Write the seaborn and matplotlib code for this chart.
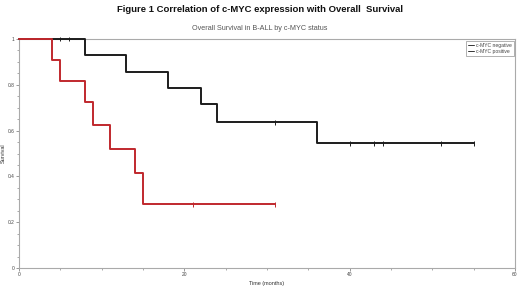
import pandas as pd
import matplotlib
matplotlib.use("Agg")
import matplotlib.pyplot as plt
import seaborn as sns
from matplotlib.ticker import MultipleLocator, FuncFormatter

# Dados (Kaplan-Meier)
neg_times = [0, 8, 13, 18, 22, 24, 36, 55]
neg_surv = [1.0, 0.929, 0.857, 0.786, 0.714, 0.636, 0.545, 0.545]
neg_cens_t = [5, 6, 31, 40, 43, 44, 51, 55]
neg_cens_s = [1.0, 1.0, 0.636, 0.545, 0.545, 0.545, 0.545, 0.545]

pos_times = [0, 4, 5, 8, 9, 11, 14, 15, 31]
pos_surv = [1.0, 0.909, 0.818, 0.727, 0.625, 0.52, 0.417, 0.278, 0.278]
pos_cens_t = [21, 31]
pos_cens_s = [0.278, 0.278]

groups = ["c-MYC negative", "c-MYC positive"]
cores = {"c-MYC negative": "#1c1c1c", "c-MYC positive": "#c0282d"}

df = pd.concat([
    pd.DataFrame({"Tempo": neg_times, "Sobrevida": neg_surv, "Grupo": groups[0]}),
    pd.DataFrame({"Tempo": pos_times, "Sobrevida": pos_surv, "Grupo": groups[1]}),
], ignore_index=True)
df_cens = pd.concat([
    pd.DataFrame({"Tempo": neg_cens_t, "Sobrevida": neg_cens_s, "Grupo": groups[0]}),
    pd.DataFrame({"Tempo": pos_cens_t, "Sobrevida": pos_cens_s, "Grupo": groups[1]}),
], ignore_index=True)

sns.set_style("white")
plt.rcParams["font.family"] = ["Liberation Sans", "DejaVu Sans"]

fig = plt.figure(figsize=(5.2, 2.86), dpi=100)
ax = fig.add_axes([19 / 520, 18 / 286, 496 / 520, 229 / 286])

sns.lineplot(data=df, x="Tempo", y="Sobrevida", hue="Grupo", palette=cores,
             drawstyle="steps-post", estimator=None, linewidth=1.4, ax=ax)
sns.scatterplot(data=df_cens, x="Tempo", y="Sobrevida", hue="Grupo", palette=cores,
                marker="|", s=12, linewidth=0.7, legend=False, ax=ax)
for art in ax.lines + ax.collections:
    art.set_clip_on(False)
    art.set_zorder(3)

ax.set_xlim(0, 60)
ax.set_ylim(0, 1)
ax.xaxis.set_major_locator(MultipleLocator(20))
ax.xaxis.set_minor_locator(MultipleLocator(5))
ax.yaxis.set_major_locator(MultipleLocator(0.2))
ax.yaxis.set_minor_locator(MultipleLocator(0.05))
ax.yaxis.set_major_formatter(FuncFormatter(lambda v, p: f"{v:g}"))
ax.tick_params(which="both", direction="out", colors="#888888", labelcolor="#444444",
               labelsize=3.5, pad=1)
ax.tick_params(which="major", length=2, width=0.6, bottom=True, left=True)
ax.tick_params(which="minor", length=1.5, width=0.5, bottom=True, left=True)
for s in ax.spines.values():
    s.set_color("#aaaaaa")
    s.set_linewidth(0.8)
    s.set_zorder(1)

ax.set_xlabel("Time (months)", fontsize=4, color="#333333", labelpad=3)
ax.set_ylabel("Survival", fontsize=4, color="#333333", labelpad=1.5)

leg = ax.legend(loc="upper right", fontsize=3.6, frameon=True, fancybox=False,
                edgecolor="#777777", handlelength=1.2, handletextpad=0.4,
                borderpad=0.4, labelspacing=0.3, borderaxespad=0.3)
leg.get_frame().set_linewidth(0.5)
for t in leg.get_texts():
    t.set_color("#444444")
for l in leg.get_lines():
    l.set_linewidth(0.7)
    l.set_color("#333333")

fig.text(0.5, 1 - 10 / 286, "Figure 1 Correlation of c-MYC expression with Overall  Survival",
         ha="center", va="center", fontsize=6.8, fontweight="bold", color="#111111")
fig.text(0.5, 1 - 29 / 286, "Overall Survival in B-ALL by c-MYC status",
         ha="center", va="center", fontsize=5.2, color="#555555")

fig.savefig("out.png", dpi=100)
